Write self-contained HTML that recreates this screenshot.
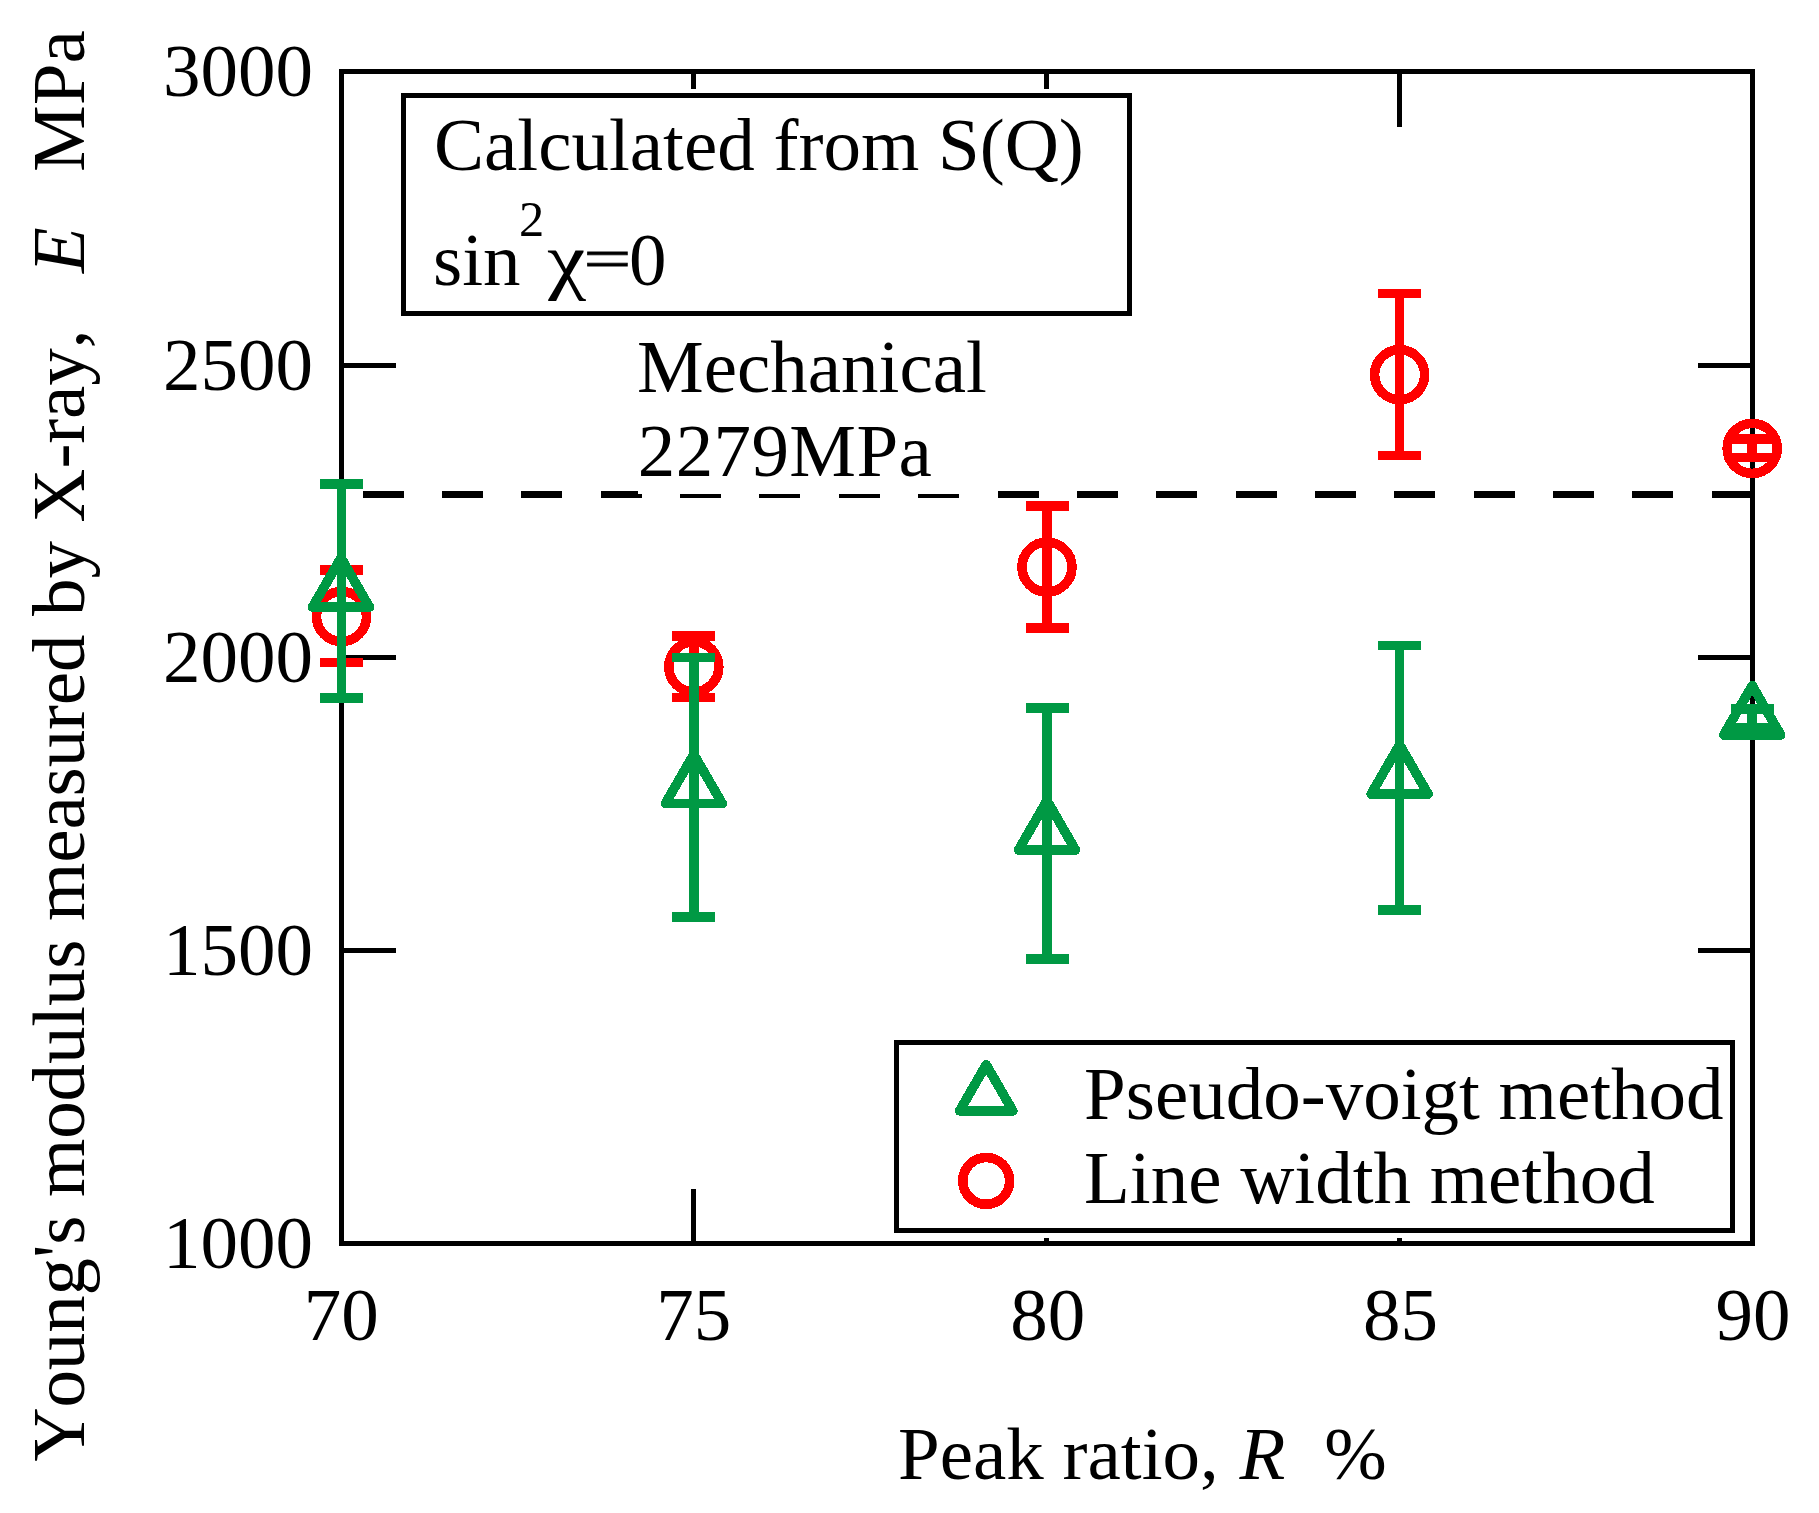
<!DOCTYPE html><html><head><meta charset="utf-8"><title>Young's modulus vs peak ratio</title>
<style>html,body{margin:0;padding:0;background:#fff}body{width:1819px;height:1513px;overflow:hidden}svg{display:block}text{font-family:"Liberation Serif","Times New Roman",serif;font-size:75px;fill:#000;font-kerning:none;font-variant-ligatures:none}.i{font-style:italic}</style></head><body>
<svg width="1819" height="1513" viewBox="0 0 1819 1513">
<rect width="1819" height="1513" fill="#fff"/>
<g stroke="#000" stroke-width="5" fill="none" shape-rendering="crispEdges">
<rect x="341.5" y="71.5" width="1411" height="1172"/>
<path d="M693.5 71.5V127M693.5 1243.5V1189M1046.5 71.5V127M1046.5 1243.5V1189M1399.5 71.5V127M1399.5 1243.5V1189M341.5 365.5H396M1752.5 365.5H1698M341.5 657.5H396M1752.5 657.5H1698M341.5 950.5H396M1752.5 950.5H1698"/>
</g>
<path d="M362.7 494.3H1752" stroke="#000" stroke-width="7.4" stroke-dasharray="41 38.35" fill="none" shape-rendering="crispEdges"/>
<rect x="638" y="322" width="352" height="172" fill="#fff"/>
<path d="M397 89H1136V320H397ZM889 1035H1740V1238H889Z" fill="#fff" shape-rendering="crispEdges"/>
<g stroke="#000" stroke-width="5" fill="#fff" shape-rendering="crispEdges">
<rect x="403.5" y="95.5" width="726" height="218"/>
<rect x="896.5" y="1042.5" width="836" height="188"/>
</g>
<g shape-rendering="crispEdges">
<circle cx="341.5" cy="616.5" r="25.0" stroke="#ff0000" stroke-width="9.6" fill="none"/>
<path d="M320.0 570H363.0M320.0 662.4H363.0M341.5 570V662.4" stroke="#ff0000" stroke-width="9.6" fill="none"/>
<circle cx="693.8" cy="666.8" r="25.0" stroke="#ff0000" stroke-width="9.6" fill="none"/>
<path d="M672.3 636H715.3M672.3 697.5H715.3M693.8 636V697.5" stroke="#ff0000" stroke-width="9.6" fill="none"/>
<circle cx="1047" cy="567.1" r="25.0" stroke="#ff0000" stroke-width="9.6" fill="none"/>
<path d="M1025.5 506.2H1068.5M1025.5 628H1068.5M1047 506.2V628" stroke="#ff0000" stroke-width="9.6" fill="none"/>
<circle cx="1399.6" cy="374.7" r="25.0" stroke="#ff0000" stroke-width="9.6" fill="none"/>
<path d="M1378.1 293.5H1421.1M1378.1 455.4H1421.1M1399.6 293.5V455.4" stroke="#ff0000" stroke-width="9.6" fill="none"/>
<circle cx="1752.2" cy="448.4" r="25.0" stroke="#ff0000" stroke-width="9.6" fill="none"/>
<path d="M1730.7 439H1773.7M1730.7 457.6H1773.7M1752.2 439V457.6" stroke="#ff0000" stroke-width="9.6" fill="none"/>
<path d="M341.0 557.79L369.50 607.15H312.50Z" stroke="#009944" stroke-width="9.6" stroke-linejoin="round" fill="none"/>
<path d="M320.0 483.7H363.0M320.0 698H363.0M341.5 483.7V698" stroke="#009944" stroke-width="9.6" fill="none"/>
<path d="M693.8 754.29L722.30 803.65H665.30Z" stroke="#009944" stroke-width="9.6" stroke-linejoin="round" fill="none"/>
<path d="M672.3 657.4H715.3M672.3 916.8H715.3M693.8 657.4V916.8" stroke="#009944" stroke-width="9.6" fill="none"/>
<path d="M1047 800.59L1075.50 849.95H1018.50Z" stroke="#009944" stroke-width="9.6" stroke-linejoin="round" fill="none"/>
<path d="M1025.5 708.2H1068.5M1025.5 958.8H1068.5M1047 708.2V958.8" stroke="#009944" stroke-width="9.6" fill="none"/>
<path d="M1399.6 744.69L1428.10 794.05H1371.10Z" stroke="#009944" stroke-width="9.6" stroke-linejoin="round" fill="none"/>
<path d="M1378.1 645.4H1421.1M1378.1 909.8H1421.1M1399.6 645.4V909.8" stroke="#009944" stroke-width="9.6" fill="none"/>
<path d="M1752.2 685.59L1780.70 734.95H1723.70Z" stroke="#009944" stroke-width="9.6" stroke-linejoin="round" fill="none"/>
<path d="M1730.7 709H1773.7M1730.7 727.8H1773.7M1752.2 709V727.8" stroke="#009944" stroke-width="9.6" fill="none"/>
<path d="M986.2 1064.73L1012.85 1110.89H959.55Z" stroke="#009944" stroke-width="9.6" stroke-linejoin="round" fill="none"/>
<circle cx="986.2" cy="1180.9" r="23.4" stroke="#ff0000" stroke-width="9.6" fill="none"/>
</g>
<text x="313" y="96.3" text-anchor="end">3000</text>
<text x="313" y="390.3" text-anchor="end">2500</text>
<text x="313" y="682.3" text-anchor="end">2000</text>
<text x="313" y="975.3" text-anchor="end">1500</text>
<text x="313" y="1268.3" text-anchor="end">1000</text>
<text x="341.3" y="1340.3" text-anchor="middle">70</text>
<text x="693.7" y="1340.3" text-anchor="middle">75</text>
<text x="1047.8" y="1340.3" text-anchor="middle">80</text>
<text x="1400.5" y="1340.3" text-anchor="middle">85</text>
<text x="1753" y="1340.3" text-anchor="middle">90</text>
<text x="898" y="1479.4" xml:space="preserve" style="white-space:pre">Peak ratio, <tspan class="i" dx="2">R</tspan><tspan dx="1.5">  %</tspan></text>
<g transform="translate(84 0) rotate(-90)"><text x="-1461.6" y="0" textLength="1132" lengthAdjust="spacing">Young's modulus measured by X-ray,</text><text x="-272.9" y="0" class="i">E</text><text x="-172" y="0">MPa</text></g>
<text x="434" y="170">Calculated from S(Q)</text>
<text x="433" y="285">sin<tspan dx="-1.5" dy="-49.4" font-size="50.5">2</tspan></text>
<text transform="translate(551.6 285) scale(1.15 1) skewX(11)" class="i">χ</text>
<text transform="translate(583.4 278.2) scale(1.13 0.76)" stroke="#000" stroke-width="1">=</text>
<text x="628.9" y="285">0</text>
<text x="637" y="392.3">Mechanical</text>
<text x="637.8" y="475.8" textLength="294" lengthAdjust="spacing">2279MPa</text>
<text x="1084" y="1119">Pseudo-voigt method</text>
<text x="1084" y="1202.6">Line width method</text>
</svg></body></html>
